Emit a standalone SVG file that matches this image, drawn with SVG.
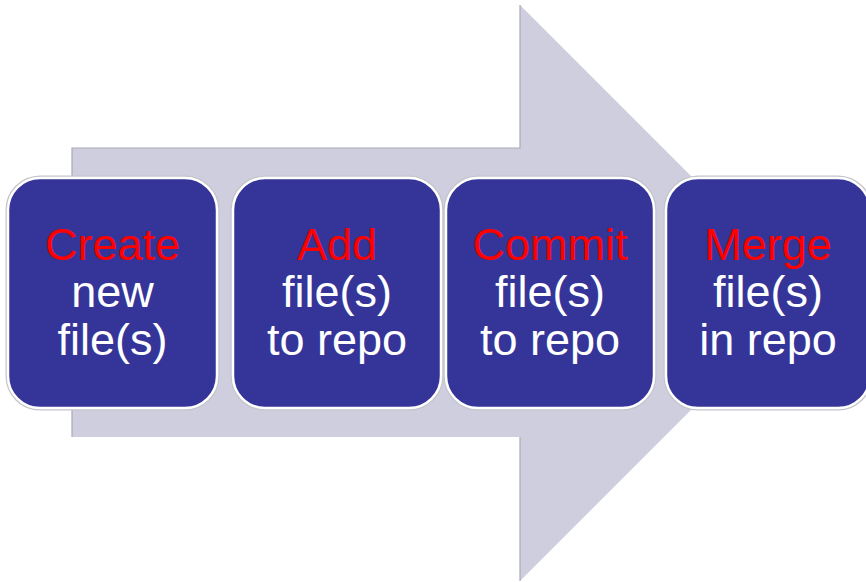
<svg xmlns="http://www.w3.org/2000/svg" width="866" height="582" viewBox="0 0 866 582">
  <style>
    .arrow { fill: #cecedf; }
    .edge { stroke: #a9a9b6; stroke-width: 1.2; fill: none; }
    .box { fill: #353599; stroke: #ffffff; stroke-width: 2.5; }
    .halo { fill: none; stroke: #c4c4cc; stroke-width: 5; }
    .label { font-family: "Liberation Sans", Arial, sans-serif; font-size: 45px; text-anchor: middle; fill: #ffffff; }
    .verb { fill: #ff0000; }
  </style>

  <!-- Background block arrow -->
  <g id="arrow">
    <polygon class="arrow" points="72,148 520,148 520,5 808,293 520,581 520,437 72,437"/>
    <polyline class="edge" points="72,437 72,148 520,148 520,5"/>
    <line class="edge" x1="520" y1="437" x2="520" y2="581"/>
  </g>

  <g id="step-create">
    <rect class="halo" x="8" y="178" width="209" height="230" rx="32"/>
    <rect class="box" x="8" y="178" width="209" height="230" rx="32"/>
    <text class="label" x="112.5" y="260"><tspan class="verb">Create</tspan><tspan x="112.5" y="307">new</tspan><tspan x="112.5" y="355">file(s)</tspan></text>
  </g>

  <g id="step-add">
    <rect class="halo" x="233" y="178" width="208" height="230" rx="32"/>
    <rect class="box" x="233" y="178" width="208" height="230" rx="32"/>
    <text class="label" x="337" y="260"><tspan class="verb">Add</tspan><tspan x="337" y="307">file(s)</tspan><tspan x="337" y="355">to repo</tspan></text>
  </g>

  <g id="step-commit">
    <rect class="halo" x="446" y="178" width="208" height="230" rx="32"/>
    <rect class="box" x="446" y="178" width="208" height="230" rx="32"/>
    <text class="label" x="550" y="260"><tspan class="verb">Commit</tspan><tspan x="550" y="307">file(s)</tspan><tspan x="550" y="355">to repo</tspan></text>
  </g>

  <g id="step-merge">
    <rect class="halo" x="666" y="178" width="204" height="230" rx="32"/>
    <rect class="box" x="666" y="178" width="204" height="230" rx="32"/>
    <text class="label" x="768" y="260"><tspan class="verb">Merge</tspan><tspan x="768" y="307">file(s)</tspan><tspan x="768" y="355">in repo</tspan></text>
  </g>

  <g id="connectors"></g>
</svg>
